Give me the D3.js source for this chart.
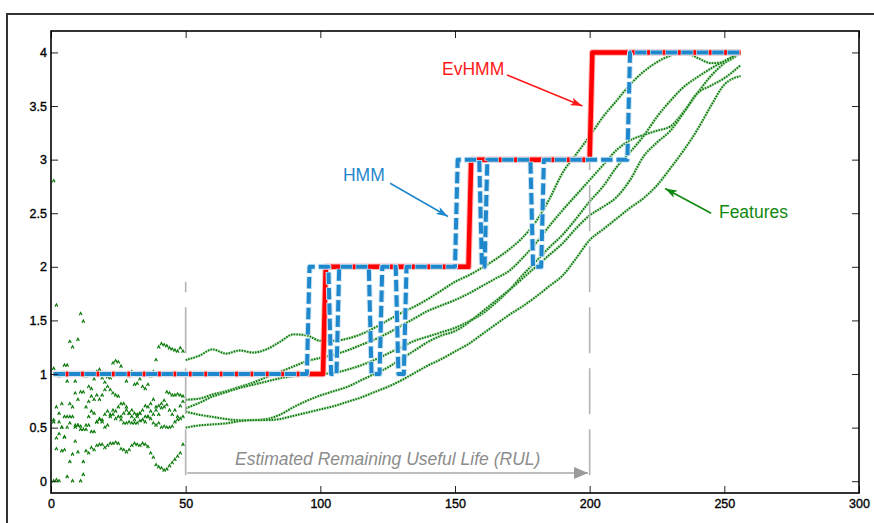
<!DOCTYPE html>
<html>
<head>
<meta charset="utf-8">
<script src="https://cdn.jsdelivr.net/npm/d3@7"></script>
<style>
  body { margin: 0; background: #fff; }
  svg { display: block; font-family: "Liberation Sans", Arial, Helvetica, sans-serif; }
</style>
</head>
<body>
<div id="chart"></div>
<script>
// ---- data ----
const xTicks = [0, 50, 100, 150, 200, 250, 300];
const yTicks = [0, 0.5, 1, 1.5, 2, 2.5, 3, 3.5, 4];

// state sequences as [time, state] corner points
const evhmmSteps = [[1, 1], [101, 1], [102, 2], [155, 2], [156, 3], [200, 3], [201, 4], [256, 4]];
const hmmSteps = [[1, 1], [95, 1], [96, 2], [103, 2], [104, 1], [106, 1], [107, 2], [118, 2], [119, 1],
  [122, 1], [123, 2], [128, 2], [129, 1], [131, 1], [132, 2], [150, 2], [151, 3], [159, 3], [160, 2],
  [161, 2], [162, 3], [178, 3], [179, 2], [182, 2], [183, 3], [214, 3], [215, 4], [256, 4]];

// noisy start of the five features, t = 1..49
const noise1 = [2.80, 1.64, 0.98, 1.00, 1.08, 1.08, 1.30, 1.25, 0.93, 1.32, 1.56, 1.49,
  0.98, 0.88, 0.86, 0.95, 1.02, 1.04, 0.96, 0.92, 0.97, 0.96, 1.10, 1.12,
  1.11, 1.07, 0.99, 0.93, 0.98, 1.02, 0.90, 0.91, 0.95, 0.88, 0.86, 0.90, 0.98, 1.02,
  1.13, 1.25, 1.28, 1.27, 1.26, 1.24, 1.23, 1.22, 1.21, 1.24, 1.21];
const noise2 = [1.05, 0.69, 0.63, 0.72, 0.60, 0.93, 0.72, 0.69, 0.82, 0.76, 0.83, 0.83,
  0.69, 0.74, 0.79, 0.76, 0.80, 0.76, 0.80, 0.85, 0.88, 0.85, 0.82, 0.80,
  0.79, 0.72, 0.72, 0.69, 0.63, 0.66, 0.63, 0.60, 0.63, 0.66, 0.70, 0.69, 0.72, 0.76,
  0.69, 0.70, 0.72, 0.75, 0.83, 0.82, 0.80, 0.80, 0.81, 0.80, 0.79];
const noise3 = [0.57, 0.40, 0.55, 0.50, 0.41, 0.60, 0.54, 0.60, 0.52, 0.52, 0.51, 0.48,
  0.52, 0.60, 0.65, 0.63, 0.55, 0.58, 0.57, 0.62, 0.65, 0.62, 0.66, 0.65,
  0.69, 0.60, 0.63, 0.66, 0.63, 0.60, 0.57, 0.62, 0.63, 0.57, 0.60, 0.60, 0.65, 0.62,
  0.66, 0.62, 0.68, 0.69, 0.71, 0.66, 0.62, 0.66, 0.60, 0.70, 0.74];
const noise4 = [0.55, 0.30, 0.44, 0.50, 0.41, 0.50, 0.60, 0.25, 0.50, 0.52, 0.48, 0.18,
  0.48, 0.52, 0.46, 0.46, 0.55, 0.57, 0.55, 0.50, 0.52, 0.60, 0.62, 0.58,
  0.60, 0.57, 0.54, 0.54, 0.55, 0.54, 0.54, 0.54, 0.56, 0.57, 0.55, 0.60, 0.58, 0.54,
  0.52, 0.54, 0.50, 0.51, 0.50, 0.50, 0.51, 0.55, 0.57, 0.58, 0.60];
const noise5 = [0.00, 0.01, 0.00, 0.28, 0.29, 0.04, 0.18, 0.00, 0.37, 0.27, 0.00, 0.06,
  0.28, 0.26, 0.31, 0.29, 0.33, 0.34, 0.34, 0.31, 0.33, 0.35, 0.35, 0.36,
  0.35, 0.30, 0.29, 0.27, 0.29, 0.33, 0.35, 0.34, 0.33, 0.35, 0.34, 0.32, 0.26, 0.22,
  0.15, 0.13, 0.12, 0.10, 0.11, 0.14, 0.17, 0.20, 0.23, 0.26, 0.34];

// smooth part of the features
const smoothT = [50, 55, 60, 65, 70, 75, 80, 85, 90, 95, 100, 105, 110, 115, 120, 125, 130, 135, 140, 145,
  150, 155, 160, 165, 170, 175, 180, 185, 190, 195, 200, 205, 210, 215, 220, 225, 230, 235, 240, 245, 250, 256];
const feat1 = [1.13, 1.17, 1.23, 1.19, 1.22, 1.20, 1.23, 1.30, 1.37, 1.36, 1.31, 1.31, 1.33, 1.37, 1.43, 1.50, 1.57, 1.63, 1.70, 1.78,
  1.86, 1.92, 1.99, 2.07, 2.16, 2.27, 2.42, 2.63, 2.88, 3.05, 3.22, 3.40, 3.55, 3.70, 3.82, 3.91, 3.97, 4.00, 3.95, 3.90, 3.91, 4.00];
const feat2 = [0.76, 0.77, 0.81, 0.84, 0.88, 0.92, 0.97, 1.02, 1.07, 1.12, 1.15, 1.18, 1.22, 1.27, 1.32, 1.38, 1.45, 1.52, 1.59, 1.64,
  1.69, 1.75, 1.82, 1.89, 1.96, 2.08, 2.22, 2.38, 2.53, 2.67, 2.81, 2.95, 3.09, 3.18, 3.23, 3.27, 3.31, 3.45, 3.62, 3.78, 3.90, 4.00];
const feat3 = [0.68, 0.73, 0.79, 0.83, 0.87, 0.90, 0.93, 0.96, 0.98, 0.99, 1.00, 1.01, 1.04, 1.08, 1.13, 1.19, 1.25, 1.31, 1.35, 1.39,
  1.43, 1.49, 1.56, 1.66, 1.78, 1.92, 2.05, 2.18, 2.30, 2.45, 2.61, 2.75, 2.93, 3.07, 3.22, 3.40, 3.55, 3.68, 3.77, 3.85, 3.92, 4.00];
const feat4 = [0.65, 0.62, 0.60, 0.58, 0.57, 0.57, 0.58, 0.62, 0.69, 0.75, 0.80, 0.84, 0.88, 0.94, 1.00, 1.06, 1.14, 1.22, 1.30, 1.36,
  1.40, 1.48, 1.58, 1.68, 1.78, 1.89, 2.00, 2.11, 2.22, 2.36, 2.48, 2.56, 2.65, 2.81, 3.03, 3.16, 3.27, 3.44, 3.62, 3.69, 3.76, 3.88];
const feat5 = [0.50, 0.52, 0.53, 0.54, 0.56, 0.57, 0.57, 0.58, 0.61, 0.64, 0.67, 0.70, 0.74, 0.78, 0.83, 0.88, 0.94, 1.01, 1.08, 1.14,
  1.21, 1.28, 1.37, 1.46, 1.55, 1.63, 1.72, 1.82, 1.92, 2.08, 2.25, 2.35, 2.45, 2.55, 2.64, 2.76, 2.92, 3.09, 3.28, 3.50, 3.70, 3.78];

const noiseSeries = [noise1, noise2, noise3, noise4, noise5];
const smoothSeries = [feat1, feat2, feat3, feat4, feat5];

// RUL window
const rulStart = 50;
const rulEnd = 200;

// ---- drawing ----
const width = 874;
const height = 523;
const margin = { top: 31, right: 15, bottom: 30, left: 51 };

const svg = d3.select('#chart')
  .append('svg')
  .attr('width', width)
  .attr('height', height);

const x = d3.scaleLinear().domain([0, 300]).range([margin.left, width - margin.right]);
const y = d3.scaleLinear().domain([-0.11, 4.2]).range([height - margin.bottom, margin.top]);

// outer figure frame (runs off the page at right/bottom)
svg.append('rect')
  .attr('x', 7).attr('y', 14)
  .attr('width', 920).attr('height', 600)
  .attr('fill', 'none')
  .attr('stroke', '#333')
  .attr('stroke-width', 2);

const defs = svg.append('defs');
const addHead = (id, color, path, w, h) => {
  defs.append('marker')
    .attr('id', id)
    .attr('markerUnits', 'userSpaceOnUse')
    .attr('viewBox', `0 0 ${w} ${h}`)
    .attr('markerWidth', w).attr('markerHeight', h)
    .attr('refX', w).attr('refY', h / 2)
    .attr('orient', 'auto')
    .append('path')
    .attr('d', path)
    .attr('fill', color);
};
addHead('head-red', '#ff1a1a', 'M0,0L12,4L0,8L3,4Z', 12, 8);
addHead('head-blue', '#1f88cc', 'M0,0L12,4L0,8L3,4Z', 12, 8);
addHead('head-green', '#118811', 'M0,0L12,4L0,8L3,4Z', 12, 8);
addHead('head-gray', '#9a9a9a', 'M0,0L14,6L0,12Z', 14, 12);

// features: noisy part as markers
const marker = 'M-1.4,1.2L0,-1.4L1.4,1.2';
noiseSeries.forEach((series) => {
  svg.append('g')
    .selectAll('path')
    .data(series)
    .enter()
    .append('path')
    .attr('transform', (d, i) => `translate(${x(i + 1)},${y(d)})`)
    .attr('d', marker)
    .attr('fill', 'none')
    .attr('stroke', '#0b7a0b')
    .attr('stroke-width', 1.2);
});

// features: smooth part as dotted lines
const featLine = d3.line()
  .x((d) => x(d[0]))
  .y((d) => y(d[1]))
  .curve(d3.curveMonotoneX);

smoothSeries.forEach((series) => {
  const pts = series.map((v, i) => [smoothT[i], v]);
  svg.append('path')
    .attr('d', featLine(pts))
    .attr('fill', 'none')
    .attr('stroke', '#9fd49f')
    .attr('stroke-width', 2.8)
    .attr('opacity', 0.6);
  svg.append('path')
    .attr('d', featLine(pts))
    .attr('fill', 'none')
    .attr('stroke', '#087608')
    .attr('stroke-width', 1.9)
    .attr('stroke-dasharray', '1.5,1.2');
});

// gray dashed markers of the RUL window
const vlines = [[rulStart, 1.86], [rulEnd, 3.35]];
svg.append('g')
  .selectAll('line')
  .data(vlines)
  .enter()
  .append('line')
  .attr('x1', (d) => x(d[0])).attr('x2', (d) => x(d[0]))
  .attr('y1', y(0)).attr('y2', (d) => y(d[1]))
  .attr('stroke', '#b4b4b4')
  .attr('stroke-width', 1.6)
  .attr('stroke-dasharray', '46,15')
  .attr('stroke-dashoffset', 55);

svg.append('line')
  .attr('x1', x(rulStart + 0.6)).attr('x2', x(rulEnd - 0.6))
  .attr('y1', y(0.077)).attr('y2', y(0.077))
  .attr('stroke', '#a8a8a8')
  .attr('stroke-width', 1.6)
  .attr('marker-end', 'url(#head-gray)');

svg.append('text')
  .attr('x', x(125)).attr('y', y(0.149))
  .attr('text-anchor', 'middle')
  .attr('font-style', 'italic')
  .attr('font-size', '17.5px')
  .attr('fill', '#8c8c8c')
  .text('Estimated Remaining Useful Life (RUL)');

// state lines
const stepLine = d3.line()
  .x((d) => x(d[0]))
  .y((d) => y(d[1]));

svg.append('path')
  .attr('d', stepLine(evhmmSteps))
  .attr('fill', 'none')
  .attr('stroke', '#ffb3b3')
  .attr('stroke-width', 6.5)
  .attr('stroke-linejoin', 'round');
svg.append('path')
  .attr('d', stepLine(evhmmSteps))
  .attr('fill', 'none')
  .attr('stroke', '#ff0000')
  .attr('stroke-width', 4.5)
  .attr('stroke-linejoin', 'round');

svg.append('path')
  .attr('d', stepLine(hmmSteps))
  .attr('fill', 'none')
  .attr('stroke', '#cfe6f5')
  .attr('stroke-width', 6)
  .attr('stroke-dasharray', '12.6,2.8')
  .attr('stroke-dashoffset', 0.6)
  .attr('stroke-linejoin', 'round');
svg.append('path')
  .attr('d', stepLine(hmmSteps))
  .attr('fill', 'none')
  .attr('stroke', '#1f88cc')
  .attr('stroke-width', 4)
  .attr('stroke-dasharray', '11.4,4')
  .attr('stroke-linejoin', 'round');

// annotations
const notes = [
  { text: 'EvHMM', color: '#ff1a1a', head: 'head-red', at: [145.2, 3.79], from: [169.3, 3.79], to: [197.3, 3.50] },
  { text: 'HMM', color: '#1f88cc', head: 'head-blue', at: [108.4, 2.80], from: [125.9, 2.78], to: [147.4, 2.47] },
  { text: 'Features', color: '#118811', head: 'head-green', at: [248.0, 2.456], from: [245.1, 2.50], to: [228.0, 2.73] }
];

notes.forEach((n) => {
  svg.append('text')
    .attr('x', x(n.at[0])).attr('y', y(n.at[1]))
    .attr('font-size', '17.5px')
    .attr('fill', n.color)
    .text(n.text);
  svg.append('line')
    .attr('x1', x(n.from[0])).attr('y1', y(n.from[1]))
    .attr('x2', x(n.to[0])).attr('y2', y(n.to[1]))
    .attr('stroke', n.color)
    .attr('stroke-width', 1.6)
    .attr('marker-end', `url(#${n.head})`);
});

// axes with inward ticks
const plotW = width - margin.left - margin.right;
const plotH = height - margin.top - margin.bottom;

const styleAxis = (g) => {
  g.select('.domain').remove();
  g.selectAll('.tick line').attr('stroke', '#222').attr('stroke-width', 1);
  g.selectAll('.tick text')
    .attr('fill', '#000')
    .attr('stroke', '#000')
    .attr('stroke-width', 0.35)
    .style('font-size', '12.5px')
    .style('font-family', '"Liberation Sans", Arial, Helvetica, sans-serif');
};

svg.append('g')
  .attr('transform', `translate(0,${height - margin.bottom})`)
  .call(d3.axisBottom(x).tickValues(xTicks).tickSize(-7).tickPadding(6).tickFormat(d3.format('d')))
  .call(styleAxis);

svg.append('g')
  .attr('transform', `translate(0,${margin.top})`)
  .call(d3.axisTop(x).tickValues(xTicks).tickSize(-7).tickFormat(''))
  .call(styleAxis);

svg.append('g')
  .attr('transform', `translate(${margin.left},0)`)
  .call(d3.axisLeft(y).tickValues(yTicks).tickSize(-7).tickPadding(4).tickFormat((d) => String(d)))
  .call(styleAxis);

svg.append('g')
  .attr('transform', `translate(${width - margin.right},0)`)
  .call(d3.axisRight(y).tickValues(yTicks).tickSize(-7).tickFormat(''))
  .call(styleAxis);

svg.append('rect')
  .attr('x', margin.left).attr('y', margin.top)
  .attr('width', plotW).attr('height', plotH)
  .attr('fill', 'none')
  .attr('stroke', '#000')
  .attr('stroke-width', 1.6);
</script>
</body>
</html>
